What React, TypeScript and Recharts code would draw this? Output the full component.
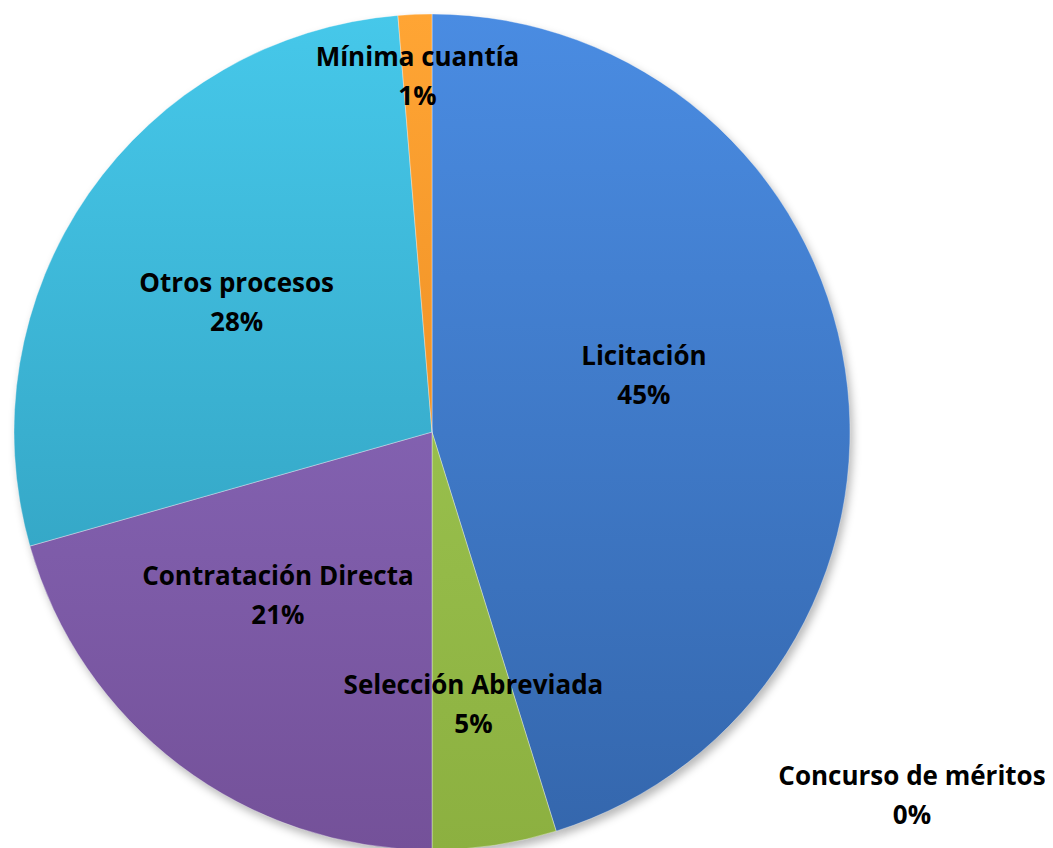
import React from "react";
import { PieChart, Pie, Cell } from "recharts";

const categories = [
  "Licitación",
  "Selección Abreviada",
  "Concurso de méritos",
  "Contratación Directa",
  "Otros procesos",
  "Mínima cuantía",
];
const shares = [45.2, 4.8, 0, 20.6, 28.1, 1.3];

const data = categories.map((name, i) => ({ name, value: shares[i] }));

// top/bottom colours of the vertical shading on each slice
const SHADES: Record<string, [string, string]> = {
  "Licitación": ["#4a8ce2", "#3466ac"],
  "Selección Abreviada": ["#a4ce58", "#8cb040"],
  "Concurso de méritos": ["#c0504d", "#963c3a"],
  "Contratación Directa": ["#9070c6", "#745199"],
  "Otros procesos": ["#46c8ea", "#2c96b4"],
  "Mínima cuantía": ["#ffa534", "#e2801a"],
};

// label placement: share of radius along the slice's mid angle, plus a nudge
const LABEL_R: Record<string, number> = {
  "Licitación": 0.52,
  "Selección Abreviada": 0.66,
  "Contratación Directa": 0.54,
  "Otros procesos": 0.56,
  "Mínima cuantía": 0.85,
};
const NUDGE: Record<string, [number, number]> = {
  "Licitación": [-3, -23],
  "Contratación Directa": [-18, -16],
  "Otros procesos": [-3, 4],
};

const RADIAN = Math.PI / 180;
const FONT = "'Open Sans', Lato, sans-serif";

function renderLabel(props: any) {
  const { cx, cy, midAngle, outerRadius, name, percent } = props;
  let x: number;
  let y: number;
  if (name === "Concurso de méritos") {
    x = cx + 480;
    y = cy + 364;
  } else {
    const r = outerRadius * (LABEL_R[name] ?? 0.55);
    const [nx, ny] = NUDGE[name] ?? [0, 0];
    x = cx + r * Math.cos(-midAngle * RADIAN) + nx;
    y = cy + r * Math.sin(-midAngle * RADIAN) + ny;
  }
  const pct = `${Math.round(percent * 100)}%`;
  return (
    <text
      key={name}
      x={x}
      y={y}
      textAnchor="middle"
      fill="#000"
      fontFamily={FONT}
      fontWeight={700}
      fontSize={26}
    >
      <tspan x={x} dy={-11}>
        {name}
      </tspan>
      <tspan x={x} dy={39}>
        {pct}
      </tspan>
    </text>
  );
}

export default function App() {
  return (
    <div style={{ width: 1045, height: 840, background: "#fff" }}>
      <PieChart
        width={1045}
        height={840}
        margin={{ top: 0, right: 0, bottom: 0, left: 0 }}
      >
        <defs>
          {categories.map((c, i) => (
            <linearGradient
              key={c}
              id={`shade-${i}`}
              gradientUnits="userSpaceOnUse"
              x1="0"
              y1="6"
              x2="0"
              y2="842"
            >
              <stop offset="0%" stopColor={SHADES[c][0]} />
              <stop offset="100%" stopColor={SHADES[c][1]} />
            </linearGradient>
          ))}
          <filter id="pie-shadow" x="-10%" y="-10%" width="120%" height="120%">
            <feGaussianBlur stdDeviation="4" />
          </filter>
        </defs>
        {/* soft shadow under the pie */}
        <Pie
          data={data}
          dataKey="value"
          nameKey="name"
          cx={427}
          cy={429}
          outerRadius={418}
          startAngle={90}
          endAngle={-270}
          fill="#000"
          fillOpacity={0.28}
          stroke="none"
          style={{ filter: "url(#pie-shadow)" }}
          isAnimationActive={false}
        />
        <Pie
          data={data}
          dataKey="value"
          nameKey="name"
          cx={424}
          cy={424}
          outerRadius={418}
          startAngle={90}
          endAngle={-270}
          stroke="rgba(255,255,255,0.35)"
          strokeWidth={1}
          labelLine={false}
          label={renderLabel}
          isAnimationActive={false}
        >
          {data.map((d, i) => (
            <Cell key={d.name} fill={`url(#shade-${i})`} />
          ))}
        </Pie>
      </PieChart>
    </div>
  );
}
